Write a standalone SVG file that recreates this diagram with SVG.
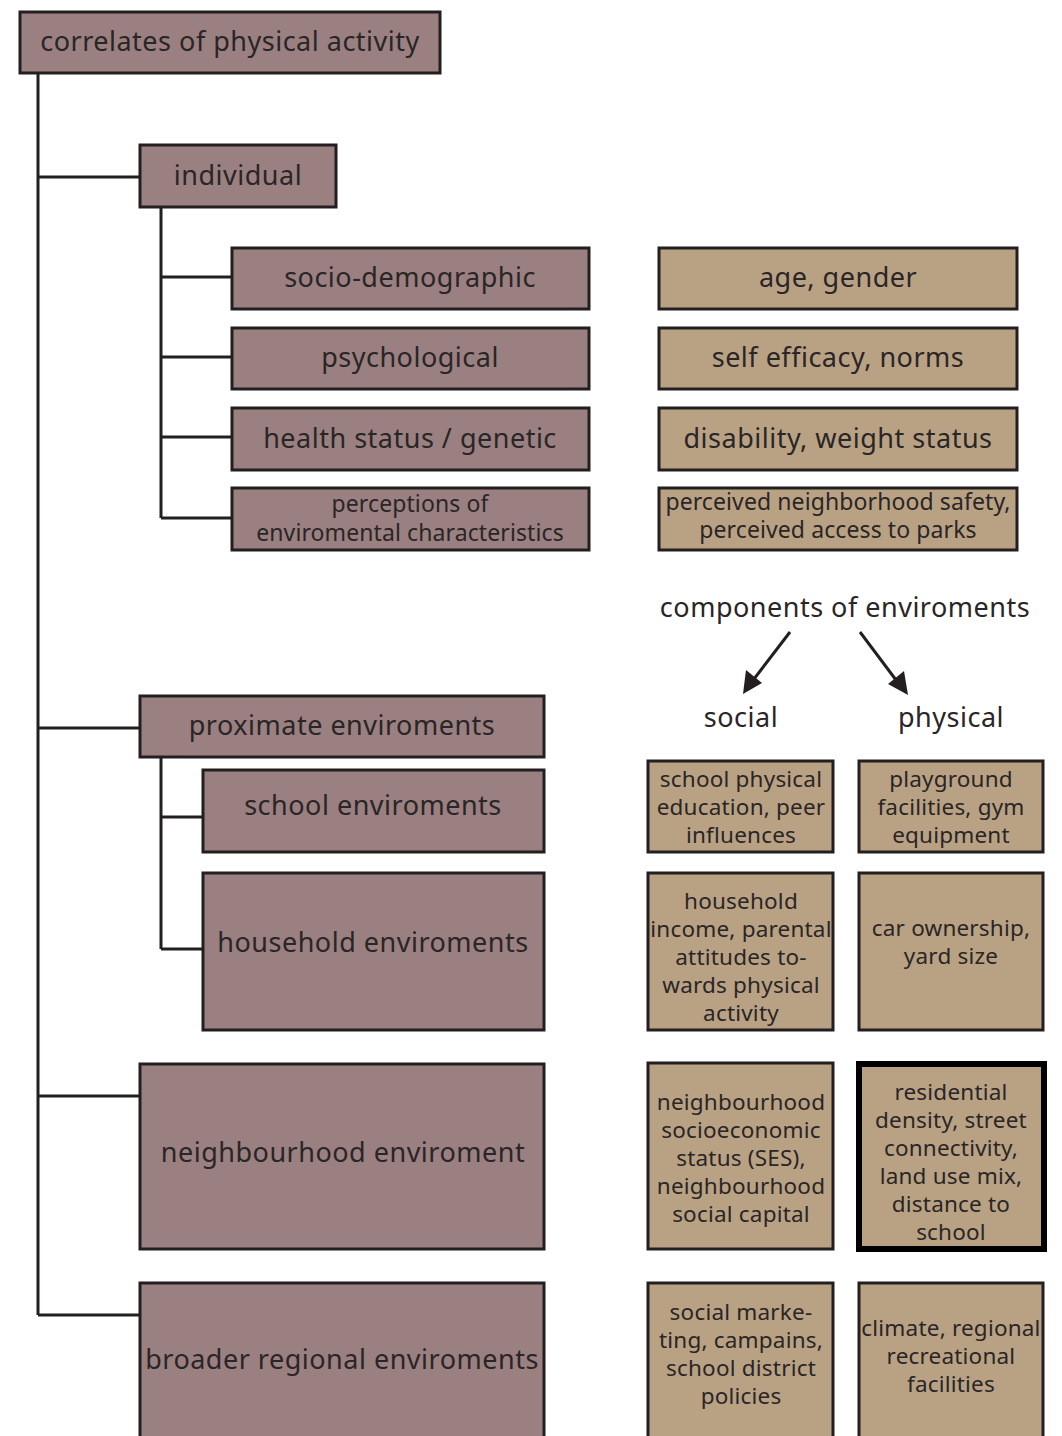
<svg xmlns="http://www.w3.org/2000/svg" width="1062" height="1436" viewBox="0 0 1062 1436">
<defs>
<style>
.m{fill:#9a8080;stroke:#231f20;stroke-width:3}
.t{fill:#b9a283;stroke:#231f20;stroke-width:3}
.tk{fill:#b9a283;stroke:#000;stroke-width:6}
.c{fill:none;stroke:#231f20;stroke-width:3}
.ah{fill:#231f20;stroke:none}
text{font-family:"Noto Sans","Open Sans",sans-serif;fill:#2a2526;text-anchor:middle}
.L{font-size:27px;letter-spacing:0.5px}
.S{font-size:22.5px;letter-spacing:0.2px}
.P{font-size:23px;letter-spacing:0.1px}
</style>
</defs>
<g id="connectors">
<path class="c" d="M38,73 V1315 M38,177 H140 M38,728 H140 M38,1096 H140 M38,1315 H140"/>
<path class="c" d="M161,207 V518 M161,277 H232 M161,357 H232 M161,437 H232 M161,518 H232"/>
<path class="c" d="M161,757 V949 M161,817 H203 M161,949 H203"/>
<line class="c" x1="790" y1="632" x2="754" y2="679"/>
<path class="ah" d="M743,694 L746,670 L762,683 Z"/>
<line class="c" x1="860" y1="632" x2="896" y2="680"/>
<path class="ah" d="M908,695 L888,684 L904,671 Z"/>
</g>
<g id="root"><rect class="m" x="20" y="12" width="420" height="61"/><text class="L" x="230" y="51">correlates of physical activity</text></g>
<g id="individual"><rect class="m" x="140" y="145" width="196" height="62"/><text class="L" x="238" y="185">individual</text></g>
<g id="socio"><rect class="m" x="232" y="248" width="357" height="61"/><text class="L" x="410" y="287">socio-demographic</text></g>
<g id="psych"><rect class="m" x="232" y="328" width="357" height="61"/><text class="L" x="410" y="367">psychological</text></g>
<g id="health"><rect class="m" x="232" y="408" width="357" height="62"/><text class="L" x="410" y="448">health status / genetic</text></g>
<g id="percep"><rect class="m" x="232" y="488" width="357" height="62"/><text class="P" x="410" y="512">perceptions of</text><text class="P" x="410" y="541">enviromental characteristics</text></g>
<g id="age"><rect class="t" x="659" y="248" width="358" height="61"/><text class="L" x="838" y="287">age, gender</text></g>
<g id="self"><rect class="t" x="659" y="328" width="358" height="61"/><text class="L" x="838" y="367">self efficacy, norms</text></g>
<g id="disab"><rect class="t" x="659" y="408" width="358" height="62"/><text class="L" x="838" y="448">disability, weight status</text></g>
<g id="perceived"><rect class="t" x="659" y="488" width="358" height="62"/><text class="P" x="838" y="510">perceived neighborhood safety,</text><text class="P" x="838" y="538">perceived access to parks</text></g>
<g id="components"><text class="L" x="845" y="617">components of enviroments</text></g>
<g id="social"><text class="L" x="741" y="727">social</text></g>
<g id="physical"><text class="L" x="951" y="727">physical</text></g>
<g id="proximate"><rect class="m" x="140" y="696" width="404" height="61"/><text class="L" x="342" y="735">proximate enviroments</text></g>
<g id="school"><rect class="m" x="203" y="770" width="341" height="82"/><text class="L" x="373" y="815">school enviroments</text></g>
<g id="household"><rect class="m" x="203" y="873" width="341" height="157"/><text class="L" x="373" y="952">household enviroments</text></g>
<g id="neigh"><rect class="m" x="140" y="1064" width="404" height="185"/><text class="L" x="343" y="1162">neighbourhood enviroment</text></g>
<g id="broader"><rect class="m" x="140" y="1283" width="404" height="170"/><text class="L" x="342" y="1369">broader regional enviroments</text></g>
<g id="s1"><rect class="t" x="648" y="761" width="185" height="91"/><text class="S" x="741" y="787">school physical</text><text class="S" x="741" y="815">education, peer</text><text class="S" x="741" y="843">influences</text></g>
<g id="p1"><rect class="t" x="859" y="761" width="184" height="91"/><text class="S" x="951" y="787">playground</text><text class="S" x="951" y="815">facilities, gym</text><text class="S" x="951" y="843">equipment</text></g>
<g id="s2"><rect class="t" x="648" y="873" width="185" height="157"/><text class="S" x="741" y="909">household</text><text class="S" x="741" y="937">income, parental</text><text class="S" x="741" y="965">attitudes to-</text><text class="S" x="741" y="993">wards physical</text><text class="S" x="741" y="1021">activity</text></g>
<g id="p2"><rect class="t" x="859" y="873" width="184" height="157"/><text class="S" x="951" y="936">car ownership,</text><text class="S" x="951" y="964">yard size</text></g>
<g id="s3"><rect class="t" x="648" y="1063" width="185" height="186"/><text class="S" x="741" y="1110">neighbourhood</text><text class="S" x="741" y="1138">socioeconomic</text><text class="S" x="741" y="1166">status (SES),</text><text class="S" x="741" y="1194">neighbourhood</text><text class="S" x="741" y="1222">social capital</text></g>
<g id="p3"><rect class="tk" x="859" y="1064" width="185" height="185"/><text class="S" x="951" y="1100">residential</text><text class="S" x="951" y="1128">density, street</text><text class="S" x="951" y="1156">connectivity,</text><text class="S" x="951" y="1184">land use mix,</text><text class="S" x="951" y="1212">distance to</text><text class="S" x="951" y="1240">school</text></g>
<g id="s4"><rect class="t" x="648" y="1283" width="185" height="170"/><text class="S" x="741" y="1320">social marke-</text><text class="S" x="741" y="1348">ting, campains,</text><text class="S" x="741" y="1376">school district</text><text class="S" x="741" y="1404">policies</text></g>
<g id="p4"><rect class="t" x="859" y="1283" width="184" height="170"/><text class="S" x="951" y="1336">climate, regional</text><text class="S" x="951" y="1364">recreational</text><text class="S" x="951" y="1392">facilities</text></g>
</svg>
